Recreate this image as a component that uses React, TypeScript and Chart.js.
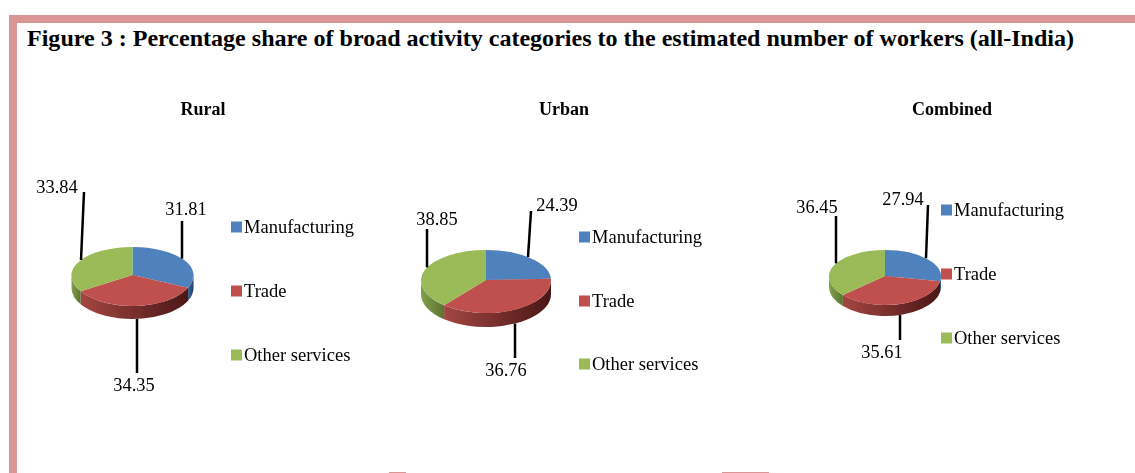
import React, { useEffect, useRef } from "react";
import { Chart, registerables } from "chart.js";

Chart.register(...registerables);

const FONT = '"Liberation Serif", "Times New Roman", serif';
const FRAME = "#D99694";

const figureTitle = "Figure 3 : Percentage share of broad activity categories to the estimated number of workers (all-India)";
const categories = ["Manufacturing", "Trade", "Other services"];
const colors = ["#4F81BD", "#C0504D", "#9BBB59"];
const sideLight = ["#3f6796", "#a34643", "#82a04a"];
const sideDark = ["#223f63", "#4a1716", "#5d7332"];

const ruralValues = [31.81, 34.35, 33.84];
const urbanValues = [24.39, 36.76, 38.85];
const combinedValues = [27.94, 35.61, 36.45];

// layout of each panel, in page pixels (ryBack / ryFront give the tilted pie its perspective)
const panels = [
  {
    title: "Rural", titleX: 203, values: ruralValues, left: 30, cx: 132.5, cy: 275, rx: 61, ryBack: 28, ryFront: 31, depth: 13,
    legendX: 231, legendY: [227, 291, 355],
    leaderStartX: [182, 137, 81],
    leaderEnd: [[182, 221], [137, 373], [84, 192]],
    labelPos: [[186, 209], [134, 385], [57, 187]],
  },
  {
    title: "Urban", titleX: 564, values: urbanValues, left: 391, cx: 486, cy: 280, rx: 65, ryBack: 30, ryFront: 33, depth: 14,
    legendX: 579, legendY: [237, 301, 364],
    leaderStartX: [528, 515, 427],
    leaderEnd: [[531, 211], [515, 358], [427, 229]],
    labelPos: [[557, 205], [506, 370], [437, 219]],
  },
  {
    title: "Combined", titleX: 952, values: combinedValues, left: 779, cx: 885, cy: 276, rx: 56, ryBack: 26, ryFront: 29, depth: 11,
    legendX: 941, legendY: [210, 274, 338],
    leaderStartX: [926, 900, 836],
    leaderEnd: [[928, 205], [900, 340], [836, 216]],
    labelPos: [[903, 199], [882, 352], [817, 207]],
  },
];

const CANVAS_TOP = 95;
const CANVAS_W = 346;
const CANVAS_H = 325;
const TITLE_Y = 110;

type Panel = (typeof panels)[number];

function piePlugin(p: Panel) {
  const ox = p.left;
  const oy = CANVAS_TOP;
  return {
    id: "pie3d",
    beforeDatasetsDraw(chart: any) {
      const ctx = chart.ctx;
      const arcs = chart.getDatasetMeta(0).data;
      arcs.forEach((arc: any, i: number) => {
        const { x, y, startAngle, endAngle, outerRadius } = arc.getProps(
          ["x", "y", "startAngle", "endAngle", "outerRadius"], true);
        // the visible side wall is the part of the rim in the front half
        const ranges = [[startAngle, endAngle], [startAngle + 2 * Math.PI, endAngle + 2 * Math.PI]];
        ranges.forEach(([s, e]) => {
          const a = Math.max(s, 0);
          const b = Math.min(e, Math.PI);
          if (b <= a) return;
          const g = ctx.createLinearGradient(x + outerRadius * Math.cos(b), 0, x + outerRadius * Math.cos(a), 0);
          g.addColorStop(0, sideLight[i]);
          g.addColorStop(1, sideDark[i]);
          ctx.save();
          ctx.fillStyle = g;
          ctx.beginPath();
          ctx.ellipse(x, y, outerRadius, p.ryFront, 0, a, b, false);
          ctx.ellipse(x, y + p.depth, outerRadius, p.ryFront, 0, b, a, true);
          ctx.closePath();
          ctx.fill();
          ctx.restore();
        });
      });
      // top face: the library's arcs, squashed a little less in front than behind
      const c = arcs[0].getProps(["x", "y"], true);
      const halves = [
        { ry: p.ryBack, clipTop: 0, clipH: c.y + 0.5 },
        { ry: p.ryFront, clipTop: c.y - 0.5, clipH: chart.height },
      ];
      halves.forEach((h) => {
        ctx.save();
        ctx.beginPath();
        ctx.rect(0, h.clipTop, chart.width, h.clipH);
        ctx.clip();
        ctx.translate(c.x, c.y);
        ctx.scale(1, h.ry / p.rx);
        ctx.translate(-c.x, -c.y);
        arcs.forEach((arc: any) => arc.draw(ctx));
        ctx.restore();
      });
      return false;
    },
    afterDraw(chart: any) {
      const ctx = chart.ctx;
      const arcs = chart.getDatasetMeta(0).data;
      ctx.save();
      ctx.textAlign = "center";
      ctx.textBaseline = "middle";
      ctx.font = `bold 18px ${FONT}`;
      ctx.fillStyle = "#000";
      ctx.fillText(p.title, p.titleX - ox, TITLE_Y - oy);
      ctx.font = `18.4px ${FONT}`;
      arcs.forEach((arc: any, i: number) => {
        const { x, y, startAngle, endAngle, outerRadius } = arc.getProps(
          ["x", "y", "startAngle", "endAngle", "outerRadius"], true);
        const mid = (startAngle + endAngle) / 2;
        // leader starts on the pie rim, at the height the rim has under its x
        const sx = p.leaderStartX[i] - ox;
        const dx = (sx - x) / outerRadius;
        const root = Math.sqrt(Math.max(0, 1 - dx * dx));
        const sy = Math.sin(mid) > 0 ? y + p.ryFront * root + p.depth : y - p.ryBack * root;
        ctx.strokeStyle = "#000";
        ctx.lineWidth = 2.5;
        ctx.beginPath();
        ctx.moveTo(sx, sy);
        ctx.lineTo(p.leaderEnd[i][0] - ox, p.leaderEnd[i][1] - oy);
        ctx.stroke();
        ctx.fillStyle = "#000";
        ctx.fillText(p.values[i].toFixed(2), p.labelPos[i][0] - ox, p.labelPos[i][1] - oy + 1);
      });
      // legend
      ctx.textAlign = "left";
      ctx.font = `18.5px ${FONT}`;
      categories.forEach((label, i) => {
        const ly = p.legendY[i] - oy;
        ctx.fillStyle = colors[i];
        ctx.fillRect(p.legendX - ox, ly - 5.5, 11, 11);
        ctx.fillStyle = "#000";
        ctx.fillText(label, p.legendX - ox + 13, ly + 1);
      });
      ctx.restore();
    },
  };
}

function PiePanel({ panel }: { panel: Panel }) {
  const ref = useRef<HTMLCanvasElement>(null);
  useEffect(() => {
    const areaTop = panel.cy - panel.rx - CANVAS_TOP;
    const areaLeft = panel.cx - panel.rx - panel.left;
    const chart = new Chart(ref.current as HTMLCanvasElement, {
      type: "pie",
      data: {
        labels: categories,
        datasets: [{ data: panel.values, backgroundColor: colors, borderWidth: 0, hoverOffset: 0 }],
      },
      options: {
        responsive: false,
        animation: false,
        layout: {
          padding: {
            left: areaLeft,
            right: CANVAS_W - areaLeft - 2 * panel.rx,
            top: areaTop,
            bottom: CANVAS_H - areaTop - 2 * panel.rx,
          },
        },
        plugins: {
          legend: { display: false },
          tooltip: { enabled: false },
          title: { display: false },
        },
      },
      plugins: [piePlugin(panel)],
    } as any);
    return () => chart.destroy();
  }, [panel]);
  return (
    <canvas
      ref={ref}
      width={CANVAS_W}
      height={CANVAS_H}
      style={{ position: "absolute", left: panel.left, top: CANVAS_TOP, width: CANVAS_W, height: CANVAS_H }}
    />
  );
}

export default function App() {
  const bar = (left: number, top: number, width: number, height: number) => (
    <div style={{ position: "absolute", left, top, width, height, background: FRAME }} />
  );
  return (
    <div style={{ position: "fixed", left: 0, top: 0, width: 1135, height: 473, background: "#fff", overflow: "hidden" }}>
      {bar(9, 15, 1126, 8)}
      {bar(9, 15, 8, 458)}
      {bar(389, 472, 17, 1)}
      {bar(722, 472, 47, 1)}
      <div
        style={{
          position: "absolute", left: 27, top: 24, whiteSpace: "nowrap", fontFamily: FONT,
          fontWeight: "bold", fontSize: 24.05, lineHeight: "28px", color: "#000",
        }}
      >
        {figureTitle}
      </div>
      {panels.map((p) => (
        <PiePanel key={p.title} panel={p} />
      ))}
    </div>
  );
}
